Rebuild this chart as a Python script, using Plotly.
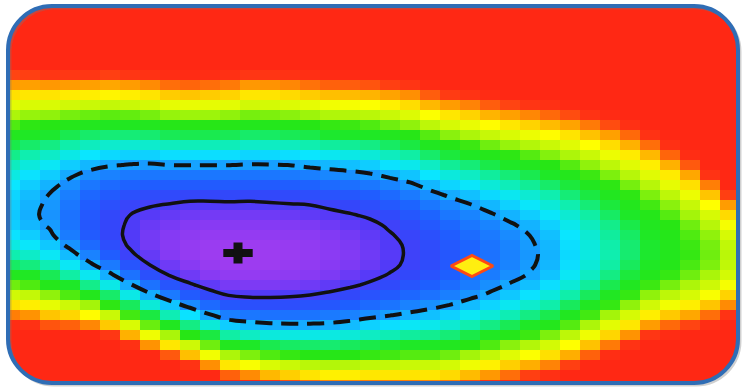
import plotly.graph_objects as go

# Column centres (horizontal cells) and row centres (vertical cells) of the chi-square map
x_centers = [10, 30, 50, 70, 90, 110, 130, 150, 170, 190, 210, 230, 250, 270, 290, 310, 330, 350, 370,
             390, 410, 430, 450, 470, 490, 510, 530, 550, 570, 590, 610, 630, 650, 670, 690, 710, 730]
y_centers = [5, 15, 25, 35, 45, 55, 65, 75, 85, 95, 105, 115, 125, 135, 145, 155, 165, 175, 185, 195,
             205, 215, 225, 235, 245, 255, 265, 275, 285, 295, 305, 315, 325, 335, 345, 355, 365, 375, 385]

# Delta chi-square read per column (top to bottom), saturating at 25
chi2_by_column = [
    [25, 25, 25, 25, 25, 25, 25, 22.7, 20.6, 18.6, 16.8, 15.1, 13.6, 12.2, 11.0, 10.0, 9.1, 8.4, 7.8, 7.4, 7.2, 7.1, 7.2, 7.7, 8.4, 9.4, 10.6, 12.2, 14.1, 16.2, 18.6, 21.3, 24.3, 25, 25, 25, 25, 25, 25],
    [25, 25, 25, 25, 25, 25, 25, 22.8, 20.5, 18.4, 16.5, 14.7, 13.1, 11.7, 10.5, 9.4, 8.5, 7.7, 7.2, 6.8, 6.6, 6.5, 6.7, 7.2, 7.9, 8.9, 10.2, 11.8, 13.6, 15.8, 18.2, 20.8, 23.8, 25, 25, 25, 25, 25, 25],
    [25, 25, 25, 25, 25, 25, 25, 23.1, 20.7, 18.5, 16.5, 14.6, 12.9, 11.4, 10.1, 8.9, 8.0, 7.2, 6.6, 6.1, 5.9, 5.8, 6.0, 6.4, 7.1, 8.0, 9.3, 10.8, 12.5, 14.6, 16.9, 19.4, 22.3, 25, 25, 25, 25, 25, 25],
    [25, 25, 25, 25, 25, 25, 25, 23.0, 20.6, 18.3, 16.2, 14.2, 12.5, 10.9, 9.5, 8.3, 7.2, 6.4, 5.7, 5.2, 4.9, 4.7, 4.8, 5.1, 5.8, 6.8, 8.0, 9.6, 11.5, 13.6, 16.1, 18.9, 22.0, 25, 25, 25, 25, 25, 25],
    [25, 25, 25, 25, 25, 25, 25, 23.1, 20.5, 18.2, 16.0, 14.0, 12.2, 10.5, 9.1, 7.8, 6.7, 5.7, 4.9, 4.3, 3.9, 3.7, 3.6, 3.8, 4.4, 5.3, 6.5, 8.1, 10.0, 12.3, 14.9, 17.8, 21.1, 24.8, 25, 25, 25, 25, 25],
    [25, 25, 25, 25, 25, 25, 25, 22.8, 20.3, 18.0, 15.8, 13.8, 12.0, 10.3, 8.8, 7.5, 6.3, 5.3, 4.4, 3.8, 3.3, 2.9, 2.8, 2.8, 3.2, 3.9, 5.0, 6.5, 8.3, 10.5, 13.1, 16.0, 19.3, 23.0, 25, 25, 25, 25, 25],
    [25, 25, 25, 25, 25, 25, 25, 23.1, 20.6, 18.2, 16.0, 13.9, 12.0, 10.3, 8.7, 7.3, 6.1, 5.0, 4.1, 3.3, 2.7, 2.3, 2.1, 2.0, 2.1, 2.6, 3.5, 4.7, 6.4, 8.3, 10.7, 13.4, 16.5, 20.0, 23.8, 25, 25, 25, 25],
    [25, 25, 25, 25, 25, 25, 25, 23.6, 21.0, 18.5, 16.3, 14.2, 12.2, 10.4, 8.8, 7.3, 6.0, 4.9, 3.9, 3.1, 2.4, 1.9, 1.5, 1.3, 1.3, 1.6, 2.3, 3.3, 4.7, 6.5, 8.6, 11.1, 14.0, 17.2, 20.8, 24.8, 25, 25, 25],
    [25, 25, 25, 25, 25, 25, 25, 24.4, 21.7, 19.2, 16.9, 14.7, 12.7, 10.8, 9.1, 7.6, 6.2, 4.9, 3.9, 3.0, 2.2, 1.6, 1.2, 0.9, 0.8, 0.9, 1.4, 2.2, 3.5, 5.0, 7.0, 9.3, 12.0, 15.0, 18.4, 22.2, 25, 25, 25],
    [25, 25, 25, 25, 25, 25, 25, 24.6, 21.9, 19.4, 17.0, 14.8, 12.8, 10.9, 9.2, 7.6, 6.2, 4.9, 3.8, 2.8, 2.0, 1.4, 0.9, 0.6, 0.4, 0.4, 0.8, 1.4, 2.5, 3.8, 5.6, 7.7, 10.1, 12.9, 16.1, 19.6, 23.5, 25, 25],
    [25, 25, 25, 25, 25, 25, 25, 24.3, 21.7, 19.2, 16.9, 14.8, 12.8, 10.9, 9.2, 7.6, 6.2, 4.9, 3.8, 2.8, 2.0, 1.3, 0.8, 0.4, 0.2, 0.1, 0.3, 0.8, 1.7, 2.9, 4.4, 6.3, 8.6, 11.1, 14.1, 17.3, 20.9, 24.9, 25],
    [25, 25, 25, 25, 25, 25, 25, 24.0, 21.4, 19.0, 16.8, 14.6, 12.7, 10.8, 9.2, 7.6, 6.2, 4.9, 3.8, 2.9, 2.0, 1.3, 0.8, 0.4, 0.1, 0.0, 0.1, 0.5, 1.2, 2.2, 3.6, 5.2, 7.2, 9.6, 12.2, 15.1, 18.4, 22.0, 25],
    [25, 25, 25, 25, 25, 25, 25, 23.2, 20.7, 18.4, 16.2, 14.2, 12.3, 10.5, 8.9, 7.4, 6.1, 4.8, 3.8, 2.8, 2.0, 1.3, 0.8, 0.4, 0.1, 0.0, 0.1, 0.4, 1.1, 2.0, 3.3, 4.9, 6.8, 9.0, 11.5, 14.3, 17.5, 21.0, 24.7],
    [25, 25, 25, 25, 25, 25, 25, 23.3, 20.8, 18.5, 16.3, 14.3, 12.4, 10.6, 9.0, 7.5, 6.1, 4.9, 3.8, 2.9, 2.1, 1.4, 0.9, 0.5, 0.2, 0.1, 0.1, 0.5, 1.1, 2.0, 3.2, 4.7, 6.5, 8.5, 10.9, 13.6, 16.5, 19.8, 23.3],
    [25, 25, 25, 25, 25, 25, 25, 23.6, 21.1, 18.8, 16.6, 14.5, 12.6, 10.8, 9.1, 7.6, 6.2, 5.0, 3.9, 3.0, 2.2, 1.5, 1.0, 0.6, 0.3, 0.2, 0.3, 0.6, 1.2, 2.1, 3.2, 4.7, 6.4, 8.4, 10.6, 13.2, 16.0, 19.1, 22.4],
    [25, 25, 25, 25, 25, 25, 25, 24.1, 21.6, 19.2, 16.9, 14.8, 12.9, 11.0, 9.4, 7.8, 6.5, 5.2, 4.1, 3.2, 2.3, 1.7, 1.1, 0.7, 0.5, 0.4, 0.5, 0.8, 1.4, 2.3, 3.4, 4.8, 6.4, 8.3, 10.5, 12.9, 15.5, 18.5, 21.7],
    [25, 25, 25, 25, 25, 25, 25, 24.6, 22.0, 19.6, 17.3, 15.2, 13.2, 11.4, 9.7, 8.1, 6.7, 5.5, 4.4, 3.4, 2.6, 1.9, 1.4, 1.0, 0.8, 0.7, 0.8, 1.1, 1.7, 2.6, 3.6, 5.0, 6.5, 8.4, 10.4, 12.7, 15.3, 18.1, 21.1],
    [25, 25, 25, 25, 25, 25, 25, 24.7, 22.1, 19.7, 17.4, 15.3, 13.3, 11.5, 9.8, 8.3, 6.9, 5.7, 4.6, 3.6, 2.8, 2.2, 1.7, 1.3, 1.1, 1.0, 1.1, 1.5, 2.1, 2.9, 4.0, 5.3, 6.8, 8.6, 10.7, 12.9, 15.4, 18.2, 21.1],
    [25, 25, 25, 25, 25, 25, 25, 24.8, 22.3, 19.9, 17.6, 15.5, 13.6, 11.7, 10.1, 8.6, 7.2, 6.0, 4.9, 3.9, 3.2, 2.5, 2.0, 1.7, 1.5, 1.4, 1.5, 1.9, 2.5, 3.4, 4.4, 5.7, 7.3, 9.0, 11.0, 13.2, 15.7, 18.4, 21.3],
    [25, 25, 25, 25, 25, 25, 25, 25, 22.8, 20.4, 18.1, 16.0, 14.1, 12.2, 10.6, 9.1, 7.7, 6.5, 5.4, 4.4, 3.7, 3.0, 2.5, 2.2, 2.0, 1.9, 2.0, 2.4, 3.0, 3.8, 4.8, 6.1, 7.6, 9.3, 11.3, 13.4, 15.8, 18.4, 21.3],
    [25, 25, 25, 25, 25, 25, 25, 25, 23.3, 20.9, 18.7, 16.6, 14.6, 12.8, 11.1, 9.6, 8.2, 7.0, 5.9, 5.0, 4.2, 3.6, 3.1, 2.7, 2.5, 2.5, 2.6, 2.9, 3.5, 4.3, 5.3, 6.5, 8.0, 9.7, 11.6, 13.7, 16.0, 18.5, 21.3],
    [25, 25, 25, 25, 25, 25, 25, 25, 24.6, 22.1, 19.8, 17.6, 15.6, 13.7, 12.0, 10.5, 9.0, 7.8, 6.7, 5.7, 4.9, 4.2, 3.7, 3.3, 3.1, 3.0, 3.1, 3.4, 4.0, 4.7, 5.7, 6.9, 8.2, 9.9, 11.7, 13.7, 16.0, 18.4, 21.1],
    [25, 25, 25, 25, 25, 25, 25, 25, 25, 22.9, 20.6, 18.4, 16.4, 14.5, 12.8, 11.2, 9.8, 8.5, 7.4, 6.4, 5.5, 4.9, 4.3, 3.9, 3.7, 3.6, 3.7, 4.0, 4.5, 5.2, 6.2, 7.3, 8.7, 10.3, 12.1, 14.1, 16.3, 18.8, 21.4],
    [25, 25, 25, 25, 25, 25, 25, 25, 25, 23.5, 21.2, 19.0, 17.0, 15.1, 13.3, 11.8, 10.3, 9.0, 7.9, 6.9, 6.1, 5.4, 4.9, 4.5, 4.2, 4.2, 4.2, 4.6, 5.1, 5.8, 6.8, 8.0, 9.4, 11.0, 12.9, 14.9, 17.2, 19.7, 22.4],
    [25, 25, 25, 25, 25, 25, 25, 25, 25, 24.5, 22.1, 19.9, 17.8, 15.9, 14.1, 12.5, 11.0, 9.7, 8.6, 7.5, 6.7, 6.0, 5.4, 5.0, 4.8, 4.7, 4.8, 5.1, 5.7, 6.4, 7.4, 8.6, 10.1, 11.8, 13.6, 15.8, 18.1, 20.7, 23.5],
    [25, 25, 25, 25, 25, 25, 25, 25, 25, 25, 22.7, 20.5, 18.4, 16.5, 14.7, 13.1, 11.6, 10.3, 9.2, 8.1, 7.3, 6.6, 6.0, 5.6, 5.4, 5.3, 5.4, 5.7, 6.3, 7.1, 8.1, 9.3, 10.8, 12.5, 14.5, 16.7, 19.1, 21.7, 24.6],
    [25, 25, 25, 25, 25, 25, 25, 25, 25, 25, 23.3, 21.1, 19.0, 17.1, 15.3, 13.7, 12.2, 10.9, 9.8, 8.7, 7.9, 7.2, 6.6, 6.2, 6.0, 5.9, 6.0, 6.3, 6.9, 7.7, 8.8, 10.1, 11.6, 13.3, 15.3, 17.6, 20.1, 22.8, 25],
    [25, 25, 25, 25, 25, 25, 25, 25, 25, 25, 24.0, 21.8, 19.7, 17.8, 16.0, 14.4, 12.9, 11.6, 10.5, 9.4, 8.6, 7.9, 7.3, 6.9, 6.7, 6.6, 6.7, 7.0, 7.6, 8.5, 9.5, 10.9, 12.4, 14.3, 16.3, 18.6, 21.2, 24.0, 25],
    [25, 25, 25, 25, 25, 25, 25, 25, 25, 25, 24.7, 22.5, 20.4, 18.5, 16.7, 15.1, 13.7, 12.4, 11.2, 10.3, 9.4, 8.7, 8.2, 7.8, 7.6, 7.5, 7.6, 8.0, 8.6, 9.5, 10.7, 12.0, 13.7, 15.6, 17.7, 20.1, 22.8, 25, 25],
    [25, 25, 25, 25, 25, 25, 25, 25, 25, 25, 25, 23.5, 21.4, 19.5, 17.7, 16.0, 14.6, 13.3, 12.1, 11.1, 10.3, 9.6, 9.1, 8.7, 8.5, 8.4, 8.6, 9.0, 9.7, 10.7, 11.9, 13.4, 15.1, 17.2, 19.5, 22.0, 24.9, 25, 25],
    [25, 25, 25, 25, 25, 25, 25, 25, 25, 25, 25, 24.6, 22.5, 20.5, 18.7, 17.1, 15.6, 14.3, 13.1, 12.1, 11.2, 10.6, 10.0, 9.7, 9.5, 9.4, 9.6, 10.1, 10.9, 11.9, 13.2, 14.9, 16.8, 18.9, 21.4, 24.2, 25, 25, 25],
    [25, 25, 25, 25, 25, 25, 25, 25, 25, 25, 25, 25, 23.9, 21.8, 20.0, 18.3, 16.7, 15.4, 14.2, 13.1, 12.3, 11.5, 11.0, 10.6, 10.4, 10.4, 10.7, 11.2, 12.0, 13.2, 14.6, 16.4, 18.4, 20.8, 23.5, 25, 25, 25, 25],
    [25, 25, 25, 25, 25, 25, 25, 25, 25, 25, 25, 25, 25, 23.7, 21.7, 19.8, 18.2, 16.7, 15.4, 14.3, 13.4, 12.6, 12.1, 11.7, 11.4, 11.4, 11.7, 12.3, 13.3, 14.6, 16.2, 18.2, 20.6, 23.2, 25, 25, 25, 25, 25],
    [25, 25, 25, 25, 25, 25, 25, 25, 25, 25, 25, 25, 25, 25, 23.9, 21.9, 20.0, 18.3, 16.9, 15.6, 14.5, 13.7, 13.0, 12.6, 12.4, 12.3, 12.6, 13.2, 14.2, 15.6, 17.3, 19.3, 21.8, 24.5, 25, 25, 25, 25, 25],
    [25, 25, 25, 25, 25, 25, 25, 25, 25, 25, 25, 25, 25, 25, 25, 24.3, 22.2, 20.3, 18.6, 17.1, 15.9, 14.9, 14.1, 13.6, 13.3, 13.2, 13.5, 14.1, 15.1, 16.4, 18.2, 20.3, 22.7, 25, 25, 25, 25, 25, 25],
    [25, 25, 25, 25, 25, 25, 25, 25, 25, 25, 25, 25, 25, 25, 25, 25, 25, 23.5, 21.3, 19.4, 17.7, 16.4, 15.4, 14.6, 14.2, 14.1, 14.3, 15.0, 16.1, 17.5, 19.4, 21.7, 24.4, 25, 25, 25, 25, 25, 25],
    [25, 25, 25, 25, 25, 25, 25, 25, 25, 25, 25, 25, 25, 25, 25, 25, 25, 25, 25, 22.8, 20.6, 18.8, 17.4, 16.4, 15.7, 15.5, 15.7, 16.3, 17.4, 19.0, 21.0, 23.5, 25, 25, 25, 25, 25, 25, 25],
]

# Confidence contours (delta chi-square 1 sigma and 2 sigma for two parameters)
solid_level = 2.30
dashed_level = 6.18

# Best-fit point (plus) and reference point (diamond)
best_fit_x = [238]
best_fit_y = [253]
reference_x = [472]
reference_y = [266]

colorscale = [
    [0.000, "rgb(160,60,240)"],
    [0.040, "rgb(130,58,244)"],
    [0.080, "rgb(82,58,248)"],
    [0.112, "rgb(52,70,250)"],
    [0.160, "rgb(30,95,255)"],
    [0.220, "rgb(25,135,255)"],
    [0.260, "rgb(20,175,255)"],
    [0.312, "rgb(10,230,255)"],
    [0.380, "rgb(15,238,170)"],
    [0.460, "rgb(30,232,40)"],
    [0.520, "rgb(40,230,20)"],
    [0.600, "rgb(170,245,10)"],
    [0.708, "rgb(255,255,0)"],
    [0.820, "rgb(255,160,0)"],
    [0.920, "rgb(255,55,20)"],
    [1.000, "rgb(255,40,20)"],
]

fig = go.Figure()
fig.add_trace(go.Heatmap(
    x=x_centers, y=y_centers, z=chi2_by_column, transpose=True,
    zmin=0, zmax=25, zsmooth=False, colorscale=colorscale,
    showscale=False, hoverinfo="skip",
))
for level, dash, width in [(dashed_level, "17px,9px", 4), (solid_level, "solid", 3.5)]:
    fig.add_trace(go.Contour(
        x=x_centers, y=y_centers, z=chi2_by_column, transpose=True,
        autocontour=False,
        contours=dict(start=level, end=level, size=1, coloring="none", showlines=True),
        line=dict(color="#111111", width=width, dash=dash, smoothing=1.3),
        showscale=False, hoverinfo="skip",
    ))
fig.add_trace(go.Scatter(
    x=best_fit_x, y=best_fit_y, mode="markers", hoverinfo="skip",
    marker=dict(symbol="line-ew", size=21, line=dict(color="#111111", width=8)),
))
fig.add_trace(go.Scatter(
    x=best_fit_x, y=best_fit_y, mode="markers", hoverinfo="skip",
    marker=dict(symbol="line-ns", size=15, line=dict(color="#111111", width=9)),
))
fig.add_trace(go.Scatter(
    x=reference_x, y=reference_y, mode="markers", hoverinfo="skip",
    marker=dict(symbol="diamond-wide", size=30, color="#FFEE10",
                line=dict(color="#FF4A12", width=3)),
))

rounded = ("M 52,6 H 694 C 718.3,6 738,25.7 738,50 V 339 C 738,363.3 718.3,383 694,383 "
           "H 52 C 27.7,383 8,363.3 8,339 V 50 C 8,25.7 27.7,6 52,6 Z")
shadow = ("M 54,8 H 696 C 720.3,8 740,27.7 740,52 V 341 C 740,365.3 720.3,385 696,385 "
          "H 54 C 29.7,385 10,365.3 10,341 V 52 C 10,27.7 29.7,8 54,8 Z")
mask = "M -20,-20 H 762 V 407 H -20 Z " + rounded

fig.update_layout(
    width=742, height=387,
    margin=dict(l=0, r=0, t=0, b=0),
    paper_bgcolor="white", plot_bgcolor="white",
    showlegend=False,
    xaxis=dict(range=[0, 742], visible=False, fixedrange=True),
    yaxis=dict(range=[387, 0], visible=False, fixedrange=True),
    shapes=[
        dict(type="path", path=mask, xref="x", yref="y", fillcolor="white",
             line=dict(width=0), fillrule="evenodd", layer="above"),
        dict(type="path", path=shadow, xref="x", yref="y",
             line=dict(color="rgba(120,120,120,0.35)", width=3), layer="above"),
        dict(type="path", path=rounded, xref="x", yref="y",
             line=dict(color="#2F6DB5", width=4), layer="above"),
    ],
)

fig.write_html("out.html", config={"displayModeBar": False},
               post_script="document.body.style.margin='0px';document.body.style.overflow='hidden';")
